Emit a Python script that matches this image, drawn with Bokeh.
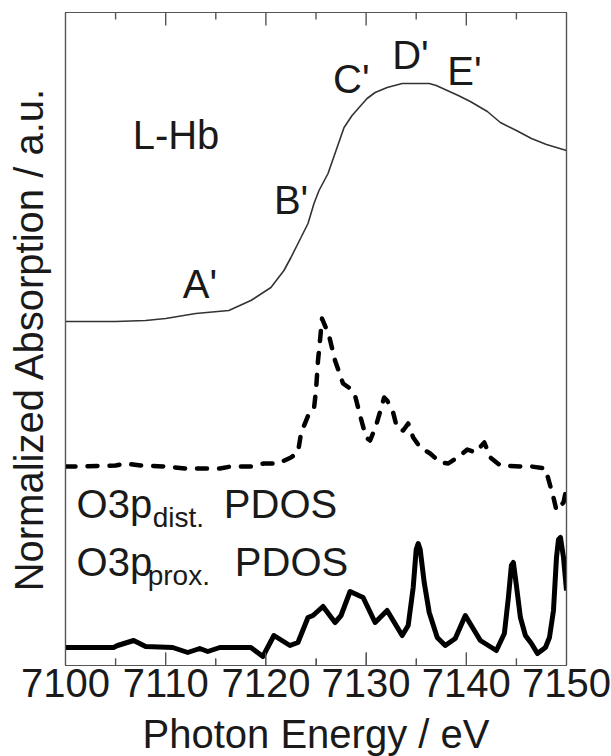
from bokeh.plotting import figure
from bokeh.models import Range1d, LinearAxis, SingleIntervalTicker, FixedTicker, CustomJSTickFormatter
from bokeh.core.properties import value
from bokeh.embed import file_html
from bokeh.resources import INLINE

# ---- data ----
lhb_energy = [7100, 7105, 7108, 7110, 7113, 7116.3, 7118.5, 7120.5, 7121.8, 7122.5, 7123.5,
              7124.2, 7124.8, 7125.3, 7126.2, 7127.0, 7127.8, 7128.6, 7129.3, 7130.1, 7130.9,
              7132.1, 7133.6, 7134.5, 7135.5, 7136.3, 7137.0, 7138.1, 7139.2, 7140.4, 7142.1,
              7143.4, 7145.0, 7146.5, 7148.0, 7150.0]
lhb_abs = [0, 0, 1, 3, 8, 11, 21, 34, 51, 64, 84,
           98, 118, 131, 148, 171, 194, 206, 214, 223, 229,
           234, 238, 238, 238, 238, 236, 231, 226, 220, 210,
           199, 191, 183, 177, 171]

dist_energy = [7100, 7101.5, 7105, 7106, 7107.5, 7110, 7112, 7115.4, 7116.5, 7118.5, 7119.8, 7121.2,
               7122.5, 7123.2, 7123.5, 7124.3, 7124.8, 7125.0, 7125.2, 7125.4, 7125.6, 7126.3,
               7126.9, 7127.7, 7128.4, 7128.9, 7129.4, 7130.0, 7130.4, 7131.0, 7131.8, 7132.1,
               7132.7, 7133.1, 7133.7, 7134.2, 7134.7, 7135.4, 7136.4, 7137.4, 7138.2, 7139.4,
               7140.1, 7140.9, 7141.8, 7142.4, 7143.4, 7145.4, 7146.5, 7147.9, 7148.7, 7149.0,
               7149.7, 7150.0]
dist_pdos = [0, 0, 1, 3, 1, 0, -2, -2, 0, 0, 3, 3,
             9, 14, 33, 53, 58, 76, 106, 126, 148, 131,
             106, 83, 78, 71, 51, 29, 26, 41, 69, 66,
             54, 38, 36, 43, 29, 19, 13, 4, 3, 11,
             17, 14, 24, 9, 1, 0, 0, -2, -31, -44,
             -36, -21]

prox_energy = [7100, 7104.8, 7105.2, 7106.8, 7108.0, 7110.7, 7112.2, 7113.4, 7114.2, 7115.4,
               7118.5, 7119.7, 7120.8, 7122.4, 7123.2, 7124.2, 7124.7, 7125.7, 7126.9, 7127.5,
               7128.4, 7129.7, 7130.9, 7132.1, 7133.6, 7134.2, 7134.7, 7135.0, 7135.2, 7135.4,
               7135.8, 7136.3, 7137.1, 7137.9, 7138.9, 7139.9, 7141.4, 7143.0, 7143.8, 7144.2,
               7144.5, 7144.7, 7145.0, 7145.4, 7145.9, 7146.5, 7147.1, 7147.9, 7148.3, 7148.7,
               7149.0, 7149.2, 7149.4, 7149.7, 7150.0]
prox_pdos = [0, 0, 2, 7, 1, 0, -5, -1, -4, 0,
             0, -9, 12, 2, 5, 30, 32, 41, 25, 32,
             56, 50, 25, 37, 12, 22, 60, 98, 104, 98,
             65, 35, 10, 2, 9, 32, 7, -3, 14, 50,
             82, 85, 62, 30, 12, 4, -6, 0, 10, 37,
             90, 108, 110, 90, 57]

# vertical offsets of the stacked traces
lhb_offset = 344
dist_offset = 199
prox_offset = 18

x_start, x_end = 7100, 7150
x_major_interval = 10
x_major_ticks = [7110, 7120, 7130, 7140]
x_minor_ticks = [7105, 7115, 7125, 7135, 7145]

FONT = "Liberation Sans"
TXT = "#1a1a1a"
FRAME = "#555555"
TICK = "#555555"

Y_TOP = 653
MAJOR_LEN = 13
MINOR_LEN = 7
TICK_HALF_W = 0.07   # half width of a tick mark, in eV (about 0.7 px)

p = figure(frame_width=501, frame_height=653, output_backend="svg", toolbar_location=None,
           x_range=Range1d(x_start, x_end), y_range=Range1d(0, Y_TOP),
           min_border_left=65, min_border_right=45, min_border_top=12, min_border_bottom=91,
           x_axis_label="Photon Energy / eV", y_axis_label="Normalized Absorption / a.u.")
p.grid.visible = False
p.outline_line_color = FRAME
p.outline_line_width = 1.2
p.background_fill_color = "white"
p.border_fill_color = "white"

xa = p.xaxis[0]
xa.ticker = SingleIntervalTicker(interval=x_major_interval, num_minor_ticks=2)
xa.major_tick_in = 13
xa.major_tick_out = 0
xa.minor_tick_in = 7
xa.minor_tick_out = 0
xa.major_tick_line_color = TICK
xa.minor_tick_line_color = TICK
xa.axis_line_color = FRAME
xa.axis_line_width = 1.2
xa.major_label_text_font = FONT
xa.major_label_text_font_size = "40px"
xa.major_label_text_color = TXT
xa.major_label_standoff = 3
xa.axis_label_text_font = FONT
xa.axis_label_text_font_size = "40px"
xa.axis_label_text_font_style = "normal"
xa.axis_label_text_color = TXT
xa.axis_label_standoff = 12

top = LinearAxis(ticker=FixedTicker(ticks=[]), formatter=CustomJSTickFormatter(code="return ''"),
                 major_tick_in=0, major_tick_out=0, minor_tick_in=0, minor_tick_out=0,
                 axis_line_color=FRAME, axis_line_width=1.2,
                 major_label_text_font_size="1px", major_label_standoff=0)
p.add_layout(top, "above")

right = LinearAxis(ticker=FixedTicker(ticks=[]), major_tick_in=0, major_tick_out=0,
                   minor_tick_in=0, minor_tick_out=0, axis_line_color=FRAME, axis_line_width=1.2,
                   major_label_text_font_size="1px", major_label_standoff=0)
p.add_layout(right, "right")

ya = p.yaxis[0]
ya.ticker = FixedTicker(ticks=[])
ya.major_tick_in = 0
ya.major_tick_out = 0
ya.minor_tick_in = 0
ya.minor_tick_out = 0
ya.major_label_standoff = 0
ya.axis_line_color = FRAME
ya.axis_line_width = 1.2
ya.axis_label_text_font = FONT
ya.axis_label_text_font_size = "40px"
ya.axis_label_text_font_style = "normal"
ya.axis_label_text_color = TXT
ya.axis_label_standoff = 15

# ---- inward tick marks drawn as thin filled bars (bottom and top edges) ----
q_left, q_right, q_bottom, q_top = [], [], [], []
for ticks, ln in ((x_major_ticks, MAJOR_LEN), (x_minor_ticks, MINOR_LEN)):
    for t in ticks:
        q_left += [t - TICK_HALF_W, t - TICK_HALF_W]
        q_right += [t + TICK_HALF_W, t + TICK_HALF_W]
        q_bottom += [0, Y_TOP - ln]
        q_top += [ln, Y_TOP]
p.quad(left=q_left, right=q_right, bottom=q_bottom, top=q_top,
       fill_color=TICK, line_color=None)

# ---- traces ----
p.line(lhb_energy, [v + lhb_offset for v in lhb_abs], line_color="#333333", line_width=1.6,
       line_join="round")
p.line(dist_energy, [v + dist_offset for v in dist_pdos], line_color="black", line_width=4.5,
       line_dash="10 12", line_cap="round", line_join="round")
p.line(prox_energy, [v + prox_offset for v in prox_pdos], line_color="black", line_width=5,
       line_join="round")

# ---- annotations ----
def lab(x, y, t, size="40px"):
    p.text(x=[x], y=[y], text=[t], text_font=value(FONT), text_font_size=value(size),
           text_color=TXT, text_align="left", text_baseline="middle")

lab(7106.7, 531, "L-Hb")
lab(7111.7, 382, "A'")
lab(7120.8, 466, "B'")
lab(7126.7, 587, "C'")
lab(7132.6, 611, "D'")
lab(7138.1, 595, "E'")
lab(7101.1, 162, "O3p")
lab(7108.7, 148, "dist.", "28px")
lab(7115.8, 162, "PDOS")
lab(7101.1, 104, "O3p")
lab(7108.2, 90, "prox.", "28px")
lab(7116.9, 104, "PDOS")

open("out.html", "w").write(file_html(p, INLINE))
